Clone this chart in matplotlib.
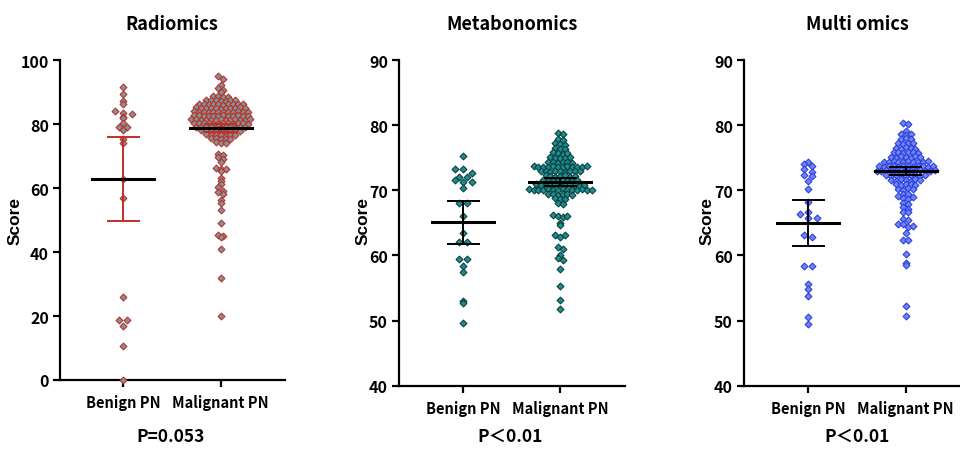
import numpy as np
import matplotlib
matplotlib.use('Agg')
import matplotlib.pyplot as plt

plt.rcParams['font.family'] = ['Noto Sans CJK SC', 'DejaVu Sans']

groups = ['Benign PN', 'Malignant PN']

# ---- Radiomics ----
rad_benign = [91.5, 89.4, 87.3, 86.2, 84.2, 83.3, 83.2, 82.1, 82.0, 80.2, 79.2, 79.1,
              78.1, 75.3, 74.1, 62.8, 57.0, 25.8, 18.9, 18.8, 16.8, 10.7, 0.0]
rad_malig = [95.0, 94.1, 92.2, 91.4, 90.7, 89.9,
             88.8, 88.6, 88.5, 88.3,
             87.6, 87.5, 87.4, 87.3, 87.2, 87.5, 87.4,
             86.4, 86.3, 86.2, 86.2, 86.1, 86.0, 86.3, 86.2, 86.1, 86.4,
             85.2, 85.1, 85.0, 85.0, 84.9, 84.8, 85.1, 85.0, 84.9, 85.2, 85.0,
             84.0, 83.9, 83.8, 83.8, 83.7, 83.6, 83.9, 83.8, 83.7, 84.0, 83.8, 83.6,
             82.8, 82.7, 82.6, 82.6, 82.5, 82.4, 82.7, 82.6, 82.5, 82.8, 82.6, 82.4,
             81.6, 81.5, 81.4, 81.4, 81.3, 81.2, 81.5, 81.4, 81.3, 81.6, 81.4, 81.2, 81.5,
             80.4, 80.3, 80.2, 80.2, 80.1, 80.0, 80.3, 80.2, 80.1, 80.4, 80.2, 80.0,
             79.2, 79.1, 79.0, 79.0, 78.9, 78.8, 79.1, 79.0, 78.9, 79.2, 79.0,
             78.0, 77.9, 77.8, 77.8, 77.7, 77.6, 77.9, 77.8, 77.7,
             76.8, 76.7, 76.6, 76.5, 76.4, 76.7, 76.6,
             75.6, 75.5, 75.4, 75.3, 75.2,
             74.4, 74.2, 74.0,
             70.6, 70.2, 69.8, 69.0, 68.2, 66.2, 66.0, 65.8, 65.2, 63.0, 62.2, 61.3,
             60.2, 59.2, 58.8, 58.2, 56.2, 55.2, 53.0, 49.0, 45.3, 45.0, 44.6, 41.0,
             32.0, 20.0]
rad_mean = [62.8, 78.7]
rad_lo = [49.8, 77.4]
rad_hi = [75.8, 80.0]

# ---- Metabonomics ----
met_benign = [75.3, 73.2, 73.2, 72.7, 72.1, 72.1, 71.6, 71.2, 71.2, 70.4, 68.1, 68.0,
              66.1, 63.5, 62.0, 62.0, 59.4, 59.4, 58.3, 57.5, 53.0, 52.7, 49.7]
met_malig = [78.8, 78.6,
             77.9, 77.7,
             77.2, 77.1, 77.0,
             76.5, 76.4, 76.3,
             75.8, 75.7, 75.6, 75.7,
             75.1, 75.0, 74.9, 75.0, 75.1,
             74.4, 74.3, 74.2, 74.3, 74.4, 74.2,
             73.7, 73.6, 73.5, 73.6, 73.7, 73.5, 73.6, 73.7, 73.6, 73.5, 73.6, 73.7,
             73.0, 72.9, 72.8, 72.9, 73.0, 72.8, 72.9, 73.0, 72.9,
             72.3, 72.2, 72.1, 72.2, 72.3, 72.1, 72.2,
             71.6, 71.5, 71.4, 71.5, 71.6, 71.4, 71.5, 71.6,
             70.9, 70.8, 70.7, 70.8, 70.9, 70.7, 70.8, 70.9, 70.8, 70.7, 70.8,
             70.2, 70.1, 70.0, 70.1, 70.2, 70.0, 70.1, 70.2, 70.1, 70.0, 70.1, 70.2, 70.0, 70.1,
             69.5, 69.4, 69.3, 69.4, 69.5, 69.3,
             68.8, 68.7, 68.6,
             68.1, 67.9,
             66.2, 66.0, 65.9, 66.1, 65.0, 64.6, 63.2, 62.9, 63.1, 61.3, 61.0,
             60.0, 59.6, 59.3, 57.9, 55.3, 53.2, 51.8]
met_mean = [65.1, 71.3]
met_lo = [61.8, 70.7]
met_hi = [68.4, 71.9]

# ---- Multi omics ----
mul_benign = [74.4, 74.0, 73.8, 73.3, 72.8, 72.3, 72.2, 71.4, 70.2, 68.2, 66.7, 66.3,
              65.8, 65.7, 63.2, 62.9, 58.4, 58.4, 55.6, 54.8, 53.8, 50.5, 49.5]
mul_malig = [80.3, 80.2,
             79.1,
             78.7, 78.5, 78.6,
             77.9, 78.0, 77.8,
             77.2, 77.1, 77.3, 77.2,
             76.5, 76.4, 76.6, 76.5, 76.4,
             75.8, 75.9, 75.7, 75.8, 75.9, 75.7,
             75.1, 75.0, 75.2, 75.1, 75.0, 75.2, 75.1,
             74.4, 74.3, 74.5, 74.4, 74.3, 74.5, 74.4, 74.3, 74.4, 74.5,
             73.7, 73.6, 73.8, 73.7, 73.6, 73.8, 73.7, 73.6, 73.7, 73.8, 73.6, 73.7,
             73.0, 72.9, 73.1, 73.0, 72.9, 73.1, 73.0, 72.9, 73.0, 73.1, 72.9, 73.0, 73.1,
             72.3, 72.2, 72.4, 72.3, 72.2, 72.4, 72.3, 72.2, 72.3,
             71.6, 71.5, 71.7, 71.6, 71.5, 71.7, 71.6,
             70.9, 70.8, 71.0, 70.9, 70.8,
             70.2, 70.1, 70.3, 70.2,
             69.5, 69.4, 69.1,
             68.8, 68.6, 68.9,
             68.1, 67.9,
             67.4, 67.2,
             66.7, 66.6,
             65.6, 65.5, 64.9, 64.8, 64.4, 64.5, 63.5, 62.4, 62.3, 60.2, 58.9, 58.5,
             52.3, 50.7]
mul_mean = [65.0, 72.9]
mul_lo = [61.5, 72.3]
mul_hi = [68.5, 73.5]

panels = [
    dict(title='Radiomics', benign=rad_benign, malig=rad_malig, mean=rad_mean, lo=rad_lo, hi=rad_hi,
         ylim=(0, 100), yticks=[0, 20, 40, 60, 80, 100], ptext='P=0.053', row=1.2, ref=74.2,
         face='#7d9698', edge='#c0302a', ci_col=['#c0302a', '#c0302a'],
         rect=[60/960, 71/452, 225/960, 320/452], xlim=(0.35, 2.66),
         tx=172, px=171, sx=15),
    dict(title='Metabonomics', benign=met_benign, malig=met_malig, mean=met_mean, lo=met_lo, hi=met_hi,
         ylim=(40, 90), yticks=[40, 50, 60, 70, 80, 90], ptext='P\uff1c0.01', row=0.7, ref=70.1,
         face='#1d8f8f', edge='#0c3f40', ci_col=['black', 'black'],
         rect=[399/960, 65.3/452, 226/960, 325.7/452], xlim=(0.335, 2.67),
         tx=512, px=510, sx=363),
    dict(title='Multi omics', benign=mul_benign, malig=mul_malig, mean=mul_mean, lo=mul_lo, hi=mul_hi,
         ylim=(40, 90), yticks=[40, 50, 60, 70, 80, 90], ptext='P\uff1c0.01', row=0.7, ref=73.0,
         face='#6f86f2', edge='#2c3fe0', ci_col=['black', 'black'],
         rect=[744/960, 65.3/452, 216/960, 325.7/452], xlim=(0.34, 2.557),
         tx=857, px=857, sx=707),
]


def swarm_x(vals, center, h, ref, d):
    vals = np.asarray(vals, dtype=float)
    bins = np.round((vals - ref) / h).astype(int)
    xs = np.empty(len(vals))
    for b in np.unique(bins):
        idx = np.where(bins == b)[0]
        n = len(idx)
        xs[idx] = center + (np.arange(n) - (n - 1) / 2) * d
    return xs


fig = plt.figure(figsize=(9.6, 4.52), dpi=100)

for p in panels:
    ax = fig.add_axes(p['rect'])
    for i, (vals, d) in enumerate([(p['benign'], 0.085), (p['malig'], 0.05)]):
        xs = swarm_x(vals, i + 1, p['row'], p['ref'], d)
        ax.scatter(xs, vals, marker='D', s=12, facecolor=p['face'], edgecolor=p['edge'],
                   linewidths=0.8, zorder=3, clip_on=False)
        ax.plot([i + 1, i + 1], [p['lo'][i], p['hi'][i]], color=p['ci_col'][i], lw=1.4, zorder=4)
        for yv in (p['lo'][i], p['hi'][i]):
            ax.plot([i + 1 - 0.16, i + 1 + 0.16], [yv, yv], color=p['ci_col'][i], lw=1.4, zorder=4)
        ax.plot([i + 1 - 0.32, i + 1 + 0.32], [p['mean'][i], p['mean'][i]], color='black', lw=2.2, zorder=5)

    ax.set_xlim(*p['xlim'])
    ax.set_ylim(*p['ylim'])
    ax.set_yticks(p['yticks'])
    ax.set_xticks([1, 2])
    ax.set_xticklabels(groups)
    for s in ['top', 'right']:
        ax.spines[s].set_visible(False)
    for s in ['left', 'bottom']:
        ax.spines[s].set_linewidth(1.6)
    ax.tick_params(axis='both', width=1.6, length=5, labelsize=11.5, pad=3)
    ax.tick_params(axis='x', pad=5, labelsize=10.5)
    for lab in ax.get_xticklabels() + ax.get_yticklabels():
        lab.set_fontweight('bold')

    fig.text(p['tx'] / 960, 1 - 24 / 452, p['title'], ha='center', va='center',
             fontsize=13, fontweight='bold')
    fig.text(p['px'] / 960, 1 - 437 / 452, p['ptext'], ha='center', va='center',
             fontsize=12.5, fontweight='bold')
    fig.text(p['sx'] / 960, 1 - 221 / 452, 'Score', rotation=90, ha='center', va='center',
             fontsize=12.5, fontweight='bold', family='Liberation Sans')

fig.savefig('out.png', dpi=100)
